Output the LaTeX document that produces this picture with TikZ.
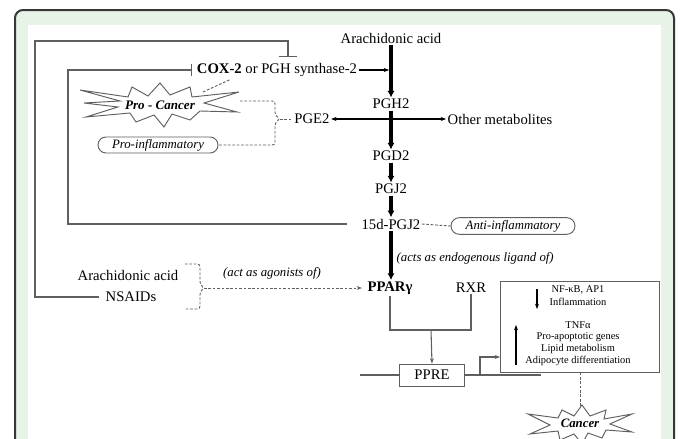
\documentclass[tikz,border=0pt]{standalone}
\usepackage{fontspec}
\setmainfont{Liberation Serif}
\usetikzlibrary{arrows.meta,shapes.misc}
\definecolor{framegreen}{RGB}{232,243,232}
\definecolor{framedark}{RGB}{55,55,55}
\definecolor{linegray}{RGB}{95,95,95}
\begin{document}
\begin{tikzpicture}[x=0.75pt,y=-0.75pt,
  txt/.style={font=\fontsize{11}{13}\selectfont, inner sep=1pt},
  lbl/.style={font=\fontsize{9.6}{11}\selectfont\itshape, inner sep=1pt},
  small/.style={font=\fontsize{7.8}{9}\selectfont, inner sep=0pt},
  thickarrow/.style={line width=2.4pt, -{Latex[length=5pt,width=5.5pt]}},
  thinline/.style={linegray, line width=0.8pt},
  dashline/.style={linegray, line width=0.7pt, dash pattern=on 2pt off 1.3pt},
  oval/.style={draw=linegray, line width=0.7pt, rounded rectangle, inner sep=1pt},
  burst/.style={draw=linegray, line width=0.7pt, fill=white, line join=miter},
  smallarrow/.style={-{Stealth[length=4pt,width=3pt]}}
]
\useasboundingbox (0,0) rectangle (682,439);
\clip (0,0) rectangle (682,439);
% frame
\filldraw[fill=framegreen, draw=framedark, line width=1.5pt, rounded corners=6pt] (15,10) rectangle (674,480);
\fill[white] (28,25) rectangle (661,480);

% main pathway nodes
\node[txt] (aa) at (391,38) {Arachidonic acid};
\node[txt] (cox) at (277,70) {\textbf{COX-2} or PGH synthase-2};
\node[txt] (pgh2) at (391,104) {PGH2};
\node[txt] (pge2) at (312,119) {PGE2};
\node[txt] (other) at (500,119) {Other metabolites};
\node[txt] (pgd2) at (391,156) {PGD2};
\node[txt] (pgj2) at (391,189) {PGJ2};
\node[txt] (pgj15) at (391,224) {15d-PGJ2};
\node[txt] (ppar) at (390,288) {\textbf{PPARγ}};
\node[txt] (rxr) at (471,288) {RXR};
\node[txt, draw=linegray, line width=0.7pt, minimum width=48.75pt, minimum height=16.5pt] (ppre) at (432,375) {PPRE};
\node[txt] (aa2) at (128,275) {Arachidonic acid};
\node[txt] (nsaids) at (131,297) {NSAIDs};

% labels
\node[lbl, anchor=west] (ligand) at (395,258) {(acts as endogenous ligand of)};
\node[lbl] (agon) at (272,273) {(act as agonists of)};
\node[oval, minimum width=92pt, minimum height=12pt, lbl] (proinf) at (158,145) {Pro-inflammatory};
\node[oval, minimum width=95pt, minimum height=12.5pt, lbl] (antiinf) at (513,226) {Anti-inflammatory};

% pro-cancer starburst
\draw[burst, shift={(160,105)}]
  (-80,-15) -- (-32,-8) -- (-28,-18) -- (-12,-9) -- (0,-22) -- (10,-10) -- (30,-18) -- (32,-8)
  -- (79,-13) -- (44,-2) -- (77,7) -- (40,6) -- (30,15) -- (12,9) -- (4,22) -- (-6,10)
  -- (-24,17) -- (-30,8) -- (-74,12) -- (-42,2) -- (-76,-2) -- (-40,-4) -- cycle;
\node[font=\fontsize{9.8}{11}\selectfont\bfseries\itshape, inner sep=1pt] (procancer) at (160,105) {Pro - Cancer};
\coordinate (pcne) at (203,92);
\coordinate (pce) at (240,101);

% cancer starburst
\draw[burst, shift={(580,424)}]
  (-52,-10) -- (-22,-6) -- (-18,-14) -- (-6,-8) -- (2,-19) -- (10,-8) -- (26,-14) -- (24,-5)
  -- (52,-10) -- (30,0) -- (52,8) -- (26,6) -- (22,14) -- (8,9) -- (2,20) -- (-6,10)
  -- (-20,16) -- (-22,7) -- (-50,10) -- (-30,1) -- cycle;
\node[font=\fontsize{9.6}{11}\selectfont\bfseries\itshape, inner sep=1pt] (cancer) at (580,423) {Cancer};
\coordinate (cancertop) at (580,407);

% result box
\node[draw=linegray, line width=0.7pt, minimum width=119.25pt, minimum height=68.25pt, inner sep=0pt] (rbox) at (579.5,326.5) {};
\node[small] (nfkb) at (578,290) {NF-κB, AP1};
\node[small] (infl) at (578,302) {Inflammation};
\node[small] (tnf) at (578,325) {TNFα};
\node[small] (apop) at (578,337) {Pro-apoptotic genes};
\node[small] (lipid) at (578,349) {Lipid metabolism};
\node[small] (adipo) at (578,361) {Adipocyte differentiation};
\coordinate (dnTop) at (537,289);
\coordinate (dnBot) at (537,309);
\coordinate (upBot) at (516,365);
\coordinate (upTop) at (516,325);
\draw[line width=0.9pt, smallarrow] (dnTop) -- (dnBot);
\draw[line width=0.9pt, smallarrow] (upBot) -- (upTop);

% thick main arrows
\draw[thickarrow] (aa.south) -- (pgh2.north);
\draw[thickarrow] (pgh2.south) -- (pgd2.north);
\draw[thickarrow] (pgd2.south) -- (pgj2.north);
\draw[thickarrow] (pgj2.south) -- (pgj15.north);
\draw[thickarrow] (pgj15.south) -- (pgj15.south |- ppar.north);

% cox arrow
\draw[line width=0.8pt, smallarrow, shorten >=1.4pt] (cox.east) -- (cox.east -| aa.south);
% pgh2 split
\coordinate (split) at (391,119);
\draw[line width=0.8pt, smallarrow] (split) -- (other.west);
\draw[line width=0.8pt, smallarrow] (split) -- (pge2.east);

% feedback loops
\coordinate (bar1) at (192,70);
\coordinate (bar2) at (288,57);
\draw[thinline, -{Bar[width=9pt]}] ([xshift=-10pt]pgj15.west) -- (68,224) -- (68,70) -- (bar1);
\draw[thinline, -{Bar[width=13.5pt]}] ([xshift=-4pt]nsaids.west) -- (35,297) -- (35,41) -- (288,41) -- (bar2);

% dashed connectors
\draw[dashline] (pcne) -- ([xshift=26pt,yshift=-1pt]cox.south west);
\coordinate (tipE) at (280,119);
\draw[dashline, rounded corners=2pt] (pce) -- (275,101) -- (275,115) -- (tipE) -- (275,123) -- (275,145) -- (proinf.east);
\draw[dashline] (tipE) -- (pge2.west);
\coordinate (tipA) at (204,288);
\draw[dashline, rounded corners=2pt] (185,264) -- (200,264) -- (200,284) -- (tipA) -- (200,292) -- (200,309) -- (185,309);
\draw[dashline, smallarrow, shorten >=3pt] (tipA) -- (ppar.west);
\draw[dashline] (pgj15.east) -- (antiinf.west);
\draw[dashline] (rbox.south -| cancertop) -- (cancertop);

% PPAR/RXR to PPRE
\coordinate (joinL) at (390,330);
\coordinate (joinR) at (471,330);
\coordinate (joinM) at (431,330);
\draw[thinline] (ppar.south) -- (joinL) -- (joinR) -- (rxr.south);
\draw[thinline, smallarrow] (joinM) -- (ppre.north);
% DNA
\coordinate (dnaL) at (360,375);
\coordinate (dnaR) at (541,375);
\coordinate (tss) at (480,375);
\coordinate (boxin) at (500,357);
\draw[thinline] (dnaL) -- (ppre.west);
\draw[thinline] (ppre.east) -- (dnaR);
\draw[thinline, smallarrow] (tss) |- (boxin);
\end{tikzpicture}
\end{document}
